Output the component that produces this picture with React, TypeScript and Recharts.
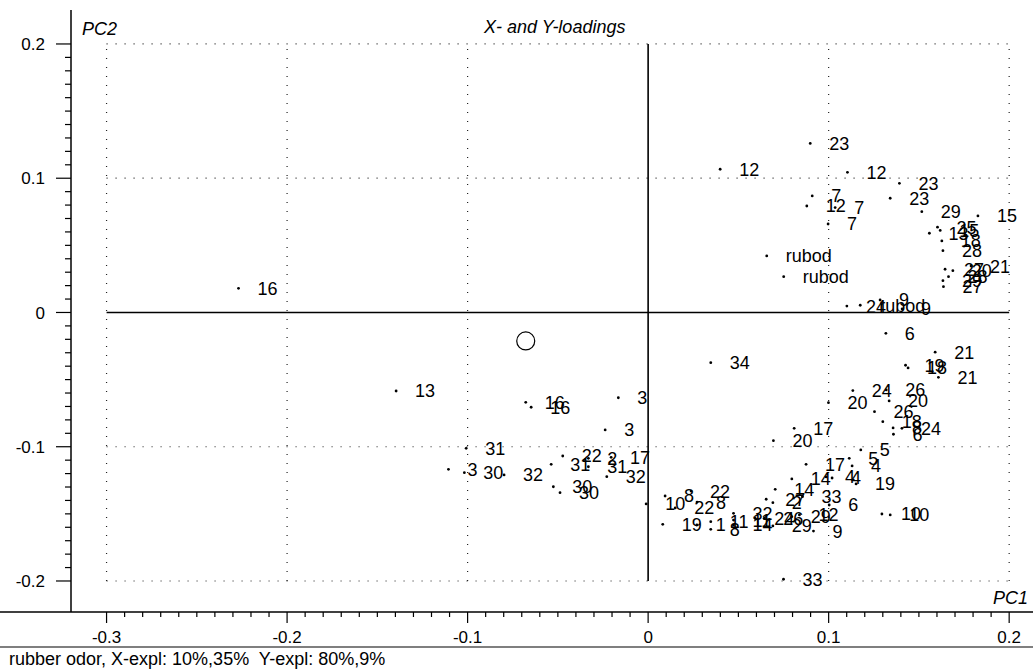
import React from 'react';
import { ScatterChart, Scatter, XAxis, YAxis, ReferenceLine } from 'recharts';

// loadings: PC1, PC2 and the point label
const pc1 = [
  0.0898, 0.0399, 0.1104, 0.1392, 0.1341, 0.0909, 0.0879, 0.1036, 0.0997, 0.0657,
  0.0751, 0.1516, 0.1827, 0.1558, 0.1603, 0.1618, 0.1627, 0.1633, 0.1645, 0.1688,
  0.1664, 0.1789, 0.1633, 0.1636, 0.1101, 0.1175, 0.1285, 0.1407, 0.1317, 0.159,
  0.1426, 0.144, 0.1608, 0.1134, 0.0999, 0.1319, 0.1335, 0.1254, 0.13, 0.1357,
  0.1406, 0.1359, 0.0809, 0.0694, 0.1178, 0.1114, 0.113, 0.0875, 0.1152, 0.0986,
  0.1019, 0.1295, 0.1341, 0.075, 0.1003, -0.0011, 0.0094, 0.015, 0.0238, 0.0271,
  0.0081, 0.027, 0.0347, 0.0347, 0.0473, 0.0473, 0.0473, 0.0593, 0.0654, 0.0643,
  0.0691, 0.0704, 0.0691, 0.0796, 0.0796, 0.0838, 0.0855, 0.0916, -0.2269, -0.1396,
  -0.0678, -0.0648, -0.0165, -0.0238, -0.1008, -0.1106, -0.1018, -0.0798, -0.0537, -0.0473,
  -0.0525, -0.0488, -0.0331, -0.0331, -0.0205, -0.0229, 0.0347,
];
const pc2 = [
  0.1259, 0.1067, 0.1044, 0.0962, 0.0851, 0.0868, 0.0793, 0.0781, 0.0659, 0.0421,
  0.0267, 0.0751, 0.0719, 0.059, 0.0635, 0.0611, 0.0533, 0.046, 0.0322, 0.0311,
  0.0267, 0.0346, 0.0237, 0.0192, 0.0048, 0.0054, 0.0093, 0.0026, -0.0155, -0.0296,
  -0.0393, -0.0413, -0.0483, -0.0582, -0.0672, -0.0577, -0.0659, -0.0739, -0.0813, -0.086,
  -0.0863, -0.0907, -0.0863, -0.0955, -0.1024, -0.1086, -0.1143, -0.1131, -0.1277, -0.1225,
  -0.1233, -0.1501, -0.1508, -0.1987, -0.1434, -0.1426, -0.1367, -0.1456, -0.133, -0.1412,
  -0.1578, -0.1583, -0.1558, -0.1615, -0.1496, -0.1546, -0.1583, -0.1533, -0.1391, -0.1533,
  -0.1417, -0.1317, -0.159, -0.124, -0.1521, -0.1508, -0.1372, -0.1628, 0.018, -0.0585,
  -0.0669, -0.0706, -0.0635, -0.0875, -0.1012, -0.1168, -0.1193, -0.121, -0.1131, -0.1069,
  -0.1298, -0.1342, -0.1086, -0.1149, -0.1079, -0.1223, -0.0374,
];
const pointLabels = [
  '23', '12', '12', '23', '23', '7', '12', '7', '7', 'rubod',
  'rubod', '29', '15', '13', '25', '15', '18', '28', '27', '20',
  '28', '21', '29', '27', '24', 'rubod', '9', '9', '6', '21',
  '19', '18', '21', '24', '20', '26', '20', '26', '18', '8',
  '24', '6', '17', '20', '5', '5', '4', '17', '19', '4',
  '4', '10', '10', '33', '6', '10', '8', '22', '22', '8',
  '19', '1', '11', '8', '32', '11', '14', '24', '27', '26',
  '2', '14', '29', '14', '29', '12', '33', '9', '16', '13',
  '16', '16', '3', '3', '31', '3', '30', '32', '31', '22',
  '30', '30', '2', '31', '17', '32', '34',
];

// the open circle marker
const circleX = [-0.0678];
const circleY = [-0.0212];

const xTickLabels = ['-0.3', '-0.2', '-0.1', '0', '0.1', '0.2'];
const yTickLabels = ['-0.2', '-0.1', '0', '0.1', '0.2'];
const xGrid = [-0.3, -0.2, -0.1, 0.1, 0.2];
const yGrid = [-0.2, -0.1, 0.1, 0.2];

const title = 'X- and Y-loadings';
const caption = 'rubber odor, X-expl: 10%,35%  Y-expl: 80%,9%';

const W = 1033;
const H = 670;
const FONT = '"Liberation Sans", Arial, Helvetica, sans-serif';

const points = pc1.map((x, i) => ({ x, y: pc2[i], label: pointLabels[i] }));
const circle = circleX.map((x, i) => ({ x, y: circleY[i] }));

// minor ticks every 0.01 between the outer major ticks
const hundredths = (lo: number, hi: number) => {
  const out: number[] = [];
  for (let i = Math.round(lo * 100); i <= Math.round(hi * 100); i++) out.push(i / 100);
  return out;
};
const xTicks = hundredths(Number(xTickLabels[0]), Number(xTickLabels[xTickLabels.length - 1]));
const yTicks = hundredths(Number(yTickLabels[0]), Number(yTickLabels[yTickLabels.length - 1]));

const isMajor = (v: number) => Math.abs(v * 10 - Math.round(v * 10)) < 1e-6;
const fmt = (v: number) => (Math.abs(v) < 1e-9 ? '0' : String(Math.round(v * 10) / 10));

const XTick = (props: any) => {
  const { x, y, payload } = props;
  const major = isMajor(payload.value);
  return (
    <g>
      <line x1={x} x2={x} y1={y} y2={y + (major ? 11 : 5)} stroke="#000" strokeWidth={1.2} />
      {major && (
        <text x={x} y={y + 31} textAnchor="middle" fontSize={17} fontFamily={FONT} fill="#000">
          {fmt(payload.value)}
        </text>
      )}
    </g>
  );
};

const YTick = (props: any) => {
  const { x, y, payload } = props;
  const major = isMajor(payload.value);
  return (
    <g>
      <line x1={x} x2={x - (major ? 15 : 6)} y1={y} y2={y} stroke="#000" strokeWidth={1.2} />
      {major && (
        <text x={x - 26} y={y} dy="0.36em" textAnchor="end" fontSize={17} fontFamily={FONT} fill="#000">
          {fmt(payload.value)}
        </text>
      )}
    </g>
  );
};

const LabeledDot = (props: any) => {
  const { cx, cy, payload } = props;
  return (
    <g>
      <circle cx={cx} cy={cy} r={1.4} fill="#000" />
      <text x={cx + 19} y={cy} dy="0.36em" fontSize={18} fontFamily={FONT} fill="#000">
        {payload.label}
      </text>
    </g>
  );
};

const OpenCircle = (props: any) => (
  <circle cx={props.cx} cy={props.cy} r={9} fill="none" stroke="#000" strokeWidth={1.2} />
);

const dotted = { stroke: '#222', strokeWidth: 1.2, strokeDasharray: '1 8' };

export default function App() {
  return (
    <div style={{ position: 'absolute', left: 0, top: 0, width: W, height: H, background: '#fff' }}>
      <ScatterChart width={W} height={H} margin={{ top: 10, right: 13, bottom: 28, left: 11 }}>
        <XAxis
          type="number"
          dataKey="x"
          domain={[-0.3197, 0.206]}
          allowDataOverflow
          ticks={xTicks}
          interval={0}
          tick={<XTick />}
          tickLine={false}
          tickSize={0}
          tickMargin={0}
          axisLine={false}
          height={30}
        />
        <YAxis
          type="number"
          dataKey="y"
          domain={[-0.2231, 0.2253]}
          allowDataOverflow
          ticks={yTicks}
          interval={0}
          tick={<YTick />}
          tickLine={false}
          tickSize={0}
          tickMargin={0}
          axisLine={{ stroke: '#000', strokeWidth: 1.5 }}
          width={60}
        />
        {yGrid.map((v) => (
          <ReferenceLine key={'h' + v} segment={[{ x: -0.3, y: v }, { x: 0.2, y: v }]} {...dotted} />
        ))}
        {xGrid.map((v) => (
          <ReferenceLine key={'v' + v} segment={[{ x: v, y: -0.2 }, { x: v, y: 0.2 }]} {...dotted} />
        ))}
        <ReferenceLine segment={[{ x: -0.3, y: 0 }, { x: 0.2, y: 0 }]} stroke="#000" strokeWidth={1.6} />
        <ReferenceLine segment={[{ x: 0, y: -0.2 }, { x: 0, y: 0.2 }]} stroke="#000" strokeWidth={1.6} />
        <Scatter data={points} shape={<LabeledDot />} isAnimationActive={false} />
        <Scatter data={circle} shape={<OpenCircle />} isAnimationActive={false} />
      </ScatterChart>
      <svg
        width={W}
        height={H}
        style={{ position: 'absolute', left: 0, top: 0, pointerEvents: 'none' }}
      >
        <line x1={0} x2={W} y1={612} y2={612} stroke="#000" strokeWidth={1.5} />
        <line x1={0} x2={W} y1={647} y2={647} stroke="#000" strokeWidth={1.2} />
        <text x={484} y={33} fontSize={18} fontStyle="italic" fontFamily={FONT} fill="#000">
          {title}
        </text>
        <text x={82} y={35} fontSize={18} fontStyle="italic" fontFamily={FONT} fill="#000">
          PC2
        </text>
        <text x={993} y={604} fontSize={18} fontStyle="italic" fontFamily={FONT} fill="#000">
          PC1
        </text>
        <text x={9} y={665} fontSize={18} fontFamily={FONT} fill="#000" xmlSpace="preserve" style={{ whiteSpace: 'pre' }}>
          {caption}
        </text>
      </svg>
    </div>
  );
}
